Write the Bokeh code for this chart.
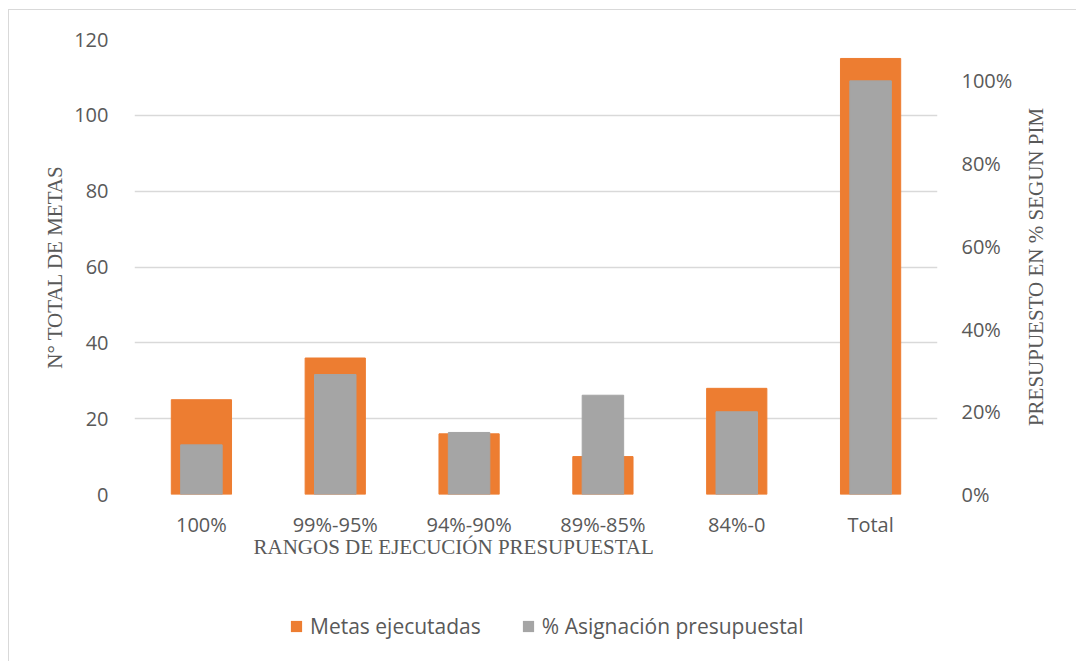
import math
from bokeh.plotting import figure
from bokeh.layouts import column, row
from bokeh.models import (Range1d, LinearAxis, FixedTicker, NumeralTickFormatter,
                          Legend, LegendItem, Title, Label, FactorRange)
from bokeh.embed import file_html
from bokeh.resources import INLINE

categories = ["100%", "99%-95%", "94%-90%", "89%-85%", "84%-0", "Total"]
metas_ejecutadas = [25, 36, 16, 10, 28, 115]
asignacion_pct = [0.12, 0.29, 0.15, 0.24, 0.20, 1.00]
left_ticks = [0, 20, 40, 60, 80, 100, 120]
right_ticks = [0, 0.2, 0.4, 0.6, 0.8, 1.0]
legend_labels = ["Metas ejecutadas", "% Asignación presupuestal"]

ORANGE = "#ED7D31"
GRAY = "#A5A5A5"
TXT = "#595959"
GRID = "#D9D9D9"

W = 1067
PW = 1006
RW = W - PW
BL, BT, BB = 125, 29, 87
FRAME_RIGHT = 929
p = figure(x_range=FactorRange(*categories), y_range=Range1d(0, 120),
           width=PW, height=571, output_backend="svg", toolbar_location=None,
           min_border_top=BT, min_border_left=BL, min_border_right=PW - FRAME_RIGHT,
           min_border_bottom=BB)
p.extra_y_ranges = {"pct": Range1d(0, 1.1)}
p.outline_line_color = None
p.background_fill_color = "white"
p.border_fill_color = "white"

r1 = p.vbar(x=categories, top=metas_ejecutadas, width=0.45, color=ORANGE)
r2 = p.vbar(x=categories, top=asignacion_pct, width=0.31, color=GRAY, y_range_name="pct")

p.xgrid.grid_line_color = None
p.ygrid.grid_line_color = GRID
p.ygrid.grid_line_width = 1.5
p.ygrid.ticker = FixedTicker(ticks=left_ticks)

# left axis
la = p.yaxis[0]
la.ticker = FixedTicker(ticks=left_ticks)
la.axis_line_color = None
la.major_tick_line_color = None
la.minor_tick_line_color = None
la.major_label_text_font = "Open Sans"
la.major_label_text_font_size = "20px"
la.major_label_text_color = TXT
la.major_label_standoff = 20
la.axis_label = "N° TOTAL DE METAS"
la.axis_label_text_font = "Liberation Serif"
la.axis_label_text_font_style = "normal"
la.axis_label_text_font_size = "21px"
la.axis_label_text_color = TXT
la.axis_label_standoff = 4

# right axis (ticks only; its title is drawn in the side strip)
ra = LinearAxis(y_range_name="pct", ticker=FixedTicker(ticks=right_ticks),
                formatter=NumeralTickFormatter(format="0%"))
ra.axis_line_color = None
ra.major_tick_line_color = None
ra.minor_tick_line_color = None
ra.major_label_text_font = "Open Sans"
ra.major_label_text_font_size = "20px"
ra.major_label_text_color = TXT
ra.major_label_standoff = 18
p.add_layout(ra, "right")

# x axis
xa = p.xaxis[0]
xa.axis_line_color = None
xa.major_tick_line_color = None
xa.minor_tick_line_color = None
xa.major_label_text_font = "Open Sans"
xa.major_label_text_font_size = "20px"
xa.major_label_text_color = TXT
xa.major_label_standoff = 10

xtitle = Title(text="RANGOS DE EJECUCIÓN PRESUPUESTAL", align="left", offset=119,
               text_font="Liberation Serif", text_font_size="21px", text_color=TXT,
               text_font_style="normal", standoff=-16)
p.add_layout(xtitle, "below")

# right strip holding the secondary axis title (reads bottom to top)
rf = figure(width=RW, height=571, output_backend="svg", toolbar_location=None,
            x_range=Range1d(0, RW), y_range=Range1d(0, 120),
            x_axis_location=None, y_axis_location=None,
            min_border_left=0, min_border_right=0, min_border_top=BT, min_border_bottom=BB)
rf.grid.visible = False
rf.outline_line_color = None
rf.border_fill_color = "white"
rf.add_layout(Label(x=20, y=60, text="PRESUPUESTO EN % SEGUN PIM", angle=math.pi / 2,
                    text_align="center", text_baseline="middle",
                    text_font="Liberation Serif", text_font_size="21px", text_color=TXT))

# legend strip (same frame insets as the chart); its bars lie outside its view
lf = figure(width=W, height=80, output_backend="svg", toolbar_location=None,
            x_range=FactorRange(*categories), y_range=Range1d(200, 300),
            x_axis_location=None, y_axis_location=None,
            min_border_left=BL, min_border_right=W - FRAME_RIGHT,
            min_border_top=0, min_border_bottom=0)
lf.grid.visible = False
lf.outline_line_color = None
lf.border_fill_color = "white"
lg1 = lf.vbar(x=categories, top=metas_ejecutadas, width=0.45, fill_color=ORANGE, line_color=None)
lg2 = lf.vbar(x=categories, top=metas_ejecutadas, width=0.31, fill_color=GRAY, line_color=None)
legend = Legend(items=[LegendItem(label=legend_labels[0], renderers=[lg1]),
                       LegendItem(label=legend_labels[1], renderers=[lg2])],
                orientation="horizontal", location=(155, 21),
                label_text_font="Open Sans", label_text_font_size="21px",
                label_text_color=TXT, glyph_width=14, glyph_height=14,
                label_standoff=7, spacing=40, border_line_color=None,
                background_fill_alpha=0, margin=0, padding=0)
lf.add_layout(legend, "center")

layout = column(row(p, rf, spacing=0), lf, spacing=0)
layout.styles = {"margin-left": "8px", "margin-top": "9px",
                 "border-left": "1px solid #D9D9D9", "border-top": "1px solid #D9D9D9"}

open("out.html", "w").write(file_html(layout, INLINE))
